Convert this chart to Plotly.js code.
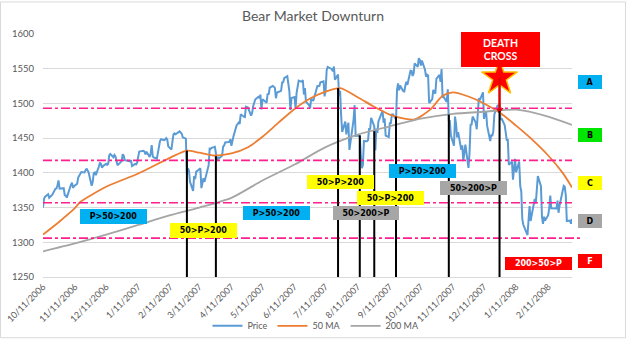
<!DOCTYPE html>
<html>
<head>
<meta charset="utf-8">
<script src="https://cdn.plot.ly/plotly-3.0.1.min.js"></script>
<style>html,body{margin:0;padding:0;background:#fff;}#chart{width:626px;height:352px;}</style>
</head>
<body>
<div id="chart"></div>
<script>
// ---- Price (daily closes), one small array per month: [day, close] ----
const p2006_10 = [[11,1349.9],[12,1362.8],[13,1365.6],[16,1369.1],[17,1364.1],[18,1365.8],[19,1367.0],[20,1368.6],[23,1377.0],[24,1377.4],[25,1382.2],[26,1389.1],[27,1377.3],[30,1377.9],[31,1377.9]];
const p2006_11 = [[1,1367.8],[2,1367.3],[3,1364.3],[6,1379.8],[7,1382.8],[8,1385.7],[9,1378.3],[10,1380.9],[13,1384.4],[14,1393.2],[15,1396.6],[16,1399.8],[17,1401.2],[20,1400.5],[21,1402.8],[22,1406.1],[24,1401.0],[27,1381.4],[28,1386.7],[29,1399.5],[30,1400.6]];
const p2006_12 = [[1,1396.7],[4,1409.1],[5,1414.8],[6,1412.9],[7,1407.3],[8,1409.8],[11,1413.0],[12,1411.6],[13,1413.2],[14,1425.5],[15,1427.1],[18,1422.5],[19,1425.6],[20,1423.5],[21,1418.3],[22,1410.8],[26,1416.9],[27,1426.8],[28,1424.7],[29,1418.3]];
const p2007_01 = [[3,1416.6],[4,1418.3],[5,1409.7],[8,1412.8],[9,1412.1],[10,1414.9],[11,1423.8],[12,1430.7],[16,1431.9],[17,1430.6],[18,1426.4],[19,1430.5],[22,1423.0],[23,1428.0],[24,1440.1],[25,1423.9],[26,1422.2],[29,1420.6],[30,1428.8],[31,1438.2]];
const p2007_02 = [[1,1445.9],[2,1448.4],[5,1447.0],[6,1448.0],[7,1450.0],[8,1448.3],[9,1438.1],[12,1433.4],[13,1444.3],[14,1455.3],[15,1456.8],[16,1455.5],[20,1459.7],[21,1457.6],[22,1456.4],[23,1451.2],[26,1449.4],[27,1399.0],[28,1406.8]];
const p2007_03 = [[1,1403.2],[2,1387.2],[5,1374.1],[6,1395.4],[7,1391.0],[8,1401.9],[9,1402.8],[12,1406.6],[13,1378.0],[14,1387.2],[15,1392.3],[16,1387.0],[19,1402.1],[20,1410.9],[21,1435.0],[22,1434.5],[23,1436.1],[26,1437.5],[27,1428.6],[28,1417.2],[29,1422.5],[30,1420.9]];
const p2007_04 = [[2,1424.6],[3,1437.8],[4,1439.4],[5,1443.8],[9,1444.6],[10,1448.4],[11,1438.9],[12,1447.8],[13,1452.9],[16,1468.3],[17,1471.5],[18,1472.5],[19,1470.7],[20,1484.4],[23,1480.9],[24,1480.4],[25,1495.4],[26,1494.3],[27,1494.1],[30,1482.4]];
const p2007_05 = [[1,1486.3],[2,1495.9],[3,1502.4],[4,1505.6],[7,1509.5],[8,1507.7],[9,1512.6],[10,1491.5],[11,1505.9],[14,1503.2],[15,1501.2],[16,1514.1],[17,1512.8],[18,1522.8],[21,1525.1],[22,1524.1],[23,1522.3],[24,1507.5],[25,1515.7],[29,1518.1],[30,1530.2],[31,1530.6]];
const p2007_06 = [[1,1536.3],[4,1539.2],[5,1531.0],[6,1517.4],[7,1490.7],[8,1507.7],[11,1509.1],[12,1493.0],[13,1515.7],[14,1523.0],[15,1532.9],[18,1531.1],[19,1533.7],[20,1512.8],[21,1522.2],[22,1502.6],[25,1497.7],[26,1492.9],[27,1506.3],[28,1505.7],[29,1503.4]];
const p2007_07 = [[2,1519.4],[3,1524.9],[5,1525.4],[6,1530.4],[9,1531.9],[10,1510.1],[11,1518.8],[12,1547.7],[13,1552.5],[16,1549.5],[17,1549.4],[18,1546.2],[19,1553.1],[20,1534.1],[23,1541.6],[24,1511.0],[25,1518.1],[26,1482.7],[27,1459.0],[30,1473.9],[31,1455.3]];
const p2007_08 = [[1,1465.8],[2,1472.2],[3,1433.1],[6,1467.7],[7,1476.7],[8,1497.5],[9,1453.1],[10,1453.6],[13,1452.9],[14,1426.5],[15,1406.7],[16,1411.3],[17,1445.9],[20,1445.6],[21,1447.1],[22,1464.1],[23,1462.5],[24,1479.4],[27,1466.8],[28,1432.4],[29,1463.8],[30,1457.6],[31,1474.0]];
const p2007_09 = [[4,1489.4],[5,1472.3],[6,1478.6],[7,1453.6],[10,1451.7],[11,1471.5],[12,1471.6],[13,1484.0],[14,1484.3],[17,1476.7],[18,1519.8],[19,1529.0],[20,1518.8],[21,1525.8],[24,1517.7],[25,1517.2],[26,1525.4],[27,1531.4],[28,1526.8]];
const p2007_10 = [[1,1547.0],[2,1546.6],[3,1539.6],[4,1542.8],[5,1557.6],[8,1552.6],[9,1565.2],[10,1562.5],[11,1554.4],[12,1561.8],[15,1548.7],[16,1538.5],[17,1541.2],[18,1540.1],[19,1500.6],[22,1506.3],[23,1519.6],[24,1515.9],[25,1514.4],[26,1535.3],[29,1541.0],[30,1531.0],[31,1549.4]];
const p2007_11 = [[1,1508.4],[2,1509.7],[5,1502.2],[6,1520.3],[7,1475.6],[8,1474.8],[9,1453.7],[12,1439.2],[13,1481.1],[14,1470.6],[15,1451.2],[16,1458.7],[19,1433.3],[20,1439.7],[21,1416.8],[23,1440.7],[26,1407.2],[27,1428.2],[28,1469.0],[29,1469.7],[30,1481.1]];
const p2007_12 = [[3,1472.4],[4,1462.8],[5,1485.0],[6,1507.3],[7,1504.7],[10,1516.0],[11,1477.7],[12,1486.6],[13,1488.4],[14,1468.0],[17,1445.9],[18,1455.0],[19,1453.0],[20,1460.1],[21,1484.5],[24,1496.5],[26,1497.7],[27,1476.3],[28,1478.5],[31,1468.4]];
const p2008_01 = [[2,1447.2],[3,1447.2],[4,1411.6],[7,1416.2],[8,1390.2],[9,1409.1],[10,1420.3],[11,1401.0],[14,1416.3],[15,1381.0],[16,1373.2],[17,1333.3],[18,1325.2],[22,1310.5],[23,1338.6],[24,1352.1],[25,1330.6],[28,1354.0],[29,1362.3],[30,1355.8],[31,1378.6]];
const p2008_02 = [[1,1395.4],[4,1380.8],[5,1336.6],[6,1326.5],[7,1336.9],[8,1331.3],[11,1339.1],[12,1348.9],[13,1367.2],[14,1348.9],[15,1349.0],[19,1348.8],[20,1360.0],[21,1342.5],[22,1353.1],[25,1371.8],[26,1381.3],[27,1380.0],[28,1367.7],[29,1330.6]];
const p2008_03 = [[3,1331.3],[4,1326.8],[5,1333.7]];

// ---- Moving averages ----
const ma50Dates = ['2006-10-11','2006-10-27','2006-11-10','2006-11-16','2006-12-11','2007-01-11','2007-02-11','2007-02-27','2007-03-11','2007-03-25','2007-04-11','2007-04-27','2007-05-11','2007-05-27','2007-06-11','2007-06-26','2007-07-11','2007-07-25','2007-08-11','2007-08-26','2007-09-11','2007-09-25','2007-10-05','2007-10-20','2007-11-01','2007-11-11','2007-11-26','2007-12-11','2007-12-27','2008-01-11','2008-01-25','2008-02-11','2008-02-25','2008-03-05'];
const ma50Values = [1311,1330,1348,1358,1380,1399,1422,1432,1429,1425,1428,1437,1452,1473,1492,1507,1517,1522,1509,1496,1484,1478,1477,1491,1511,1516,1510,1500,1486,1468,1450,1425,1400,1379];
const ma200Dates = ['2006-10-11','2006-11-10','2006-12-11','2007-01-11','2007-02-11','2007-03-11','2007-04-11','2007-05-11','2007-06-11','2007-07-11','2007-08-11','2007-09-11','2007-10-11','2007-11-11','2007-12-11','2008-01-11','2008-02-11','2008-03-05'];
const ma200Values = [1287,1298,1311,1325,1339,1350,1364,1389,1412,1437,1455,1467,1478,1485,1488,1491,1481,1469];

// ---- Axis ticks ----
const tickDates = ['2006-10-11','2006-11-11','2006-12-11','2007-01-11','2007-02-11','2007-03-11','2007-04-11','2007-05-11','2007-06-11','2007-07-11','2007-08-11','2007-09-11','2007-10-11','2007-11-11','2007-12-11','2008-01-11','2008-02-11'];
const tickLabels = ['10/11/2006','11/11/2006','12/11/2006','1/11/2007','2/11/2007','3/11/2007','4/11/2007','5/11/2007','6/11/2007','7/11/2007','8/11/2007','9/11/2007','10/11/2007','11/11/2007','12/11/2007','1/11/2008','2/11/2008'];

// ---- Signals ----
const signalDates = ['2007-02-27','2007-03-27','2007-07-23','2007-08-13','2007-08-27','2007-09-17','2007-11-07','2007-12-26'];
const signalTops = [1432,1424,1522,1454,1460,1481,1484,1489];
const crossDate = '2007-12-26';
const crossValue = 1489;
const starValue = 1537;
const levels = [1493,1418,1357,1306];
const regimeTexts = ['P>50>200','50>P>200','P>50>200','50>P>200','50>P>200','50>200>P','P>50>200','50>200>P','200>50>P'];
const zoneTexts = ['A','B','C','D','F'];

// ---- build price series ----
const months = [['2006-10',p2006_10],['2006-11',p2006_11],['2006-12',p2006_12],['2007-01',p2007_01],['2007-02',p2007_02],['2007-03',p2007_03],['2007-04',p2007_04],['2007-05',p2007_05],['2007-06',p2007_06],['2007-07',p2007_07],['2007-08',p2007_08],['2007-09',p2007_09],['2007-10',p2007_10],['2007-11',p2007_11],['2007-12',p2007_12],['2008-01',p2008_01],['2008-02',p2008_02],['2008-03',p2008_03]];
const priceX = [], priceY = [];
months.forEach(([ym, arr]) => arr.forEach(([d, v]) => { priceX.push(ym + '-' + String(d).padStart(2,'0')); priceY.push(v); }));

// ---- pixel helpers for decorations ----
const PL = 43, PR = 572, PT = 34, PB = 288;
const W = PR - PL, H = PB - PT;
const px = x => (x - PL) / W;
const py = y => (PB - y) / H;

const BLUE = '#00b0f0', YEL = '#ffff00', GRY = '#a6a6a6', RED = '#ff0000', GRN = '#00e600';
const regimeStyle = [
  {bg:BLUE, fg:'#000', cx:113, cy:224.5, w:67, h:15},
  {bg:YEL, fg:'#000', cx:203.5, cy:239.5, w:67, h:15},
  {bg:BLUE, fg:'#000', cx:276.5, cy:221.5, w:67, h:14},
  {bg:YEL, fg:'#000', cx:340.5, cy:189, w:67, h:14},
  {bg:YEL, fg:'#000', cx:390.5, cy:205.5, w:67, h:14},
  {bg:GRY, fg:'#000', cx:366, cy:221.5, w:66, h:14},
  {bg:BLUE, fg:'#000', cx:422.5, cy:177.5, w:67, h:14},
  {bg:GRY, fg:'#000', cx:473.5, cy:194.5, w:67, h:14},
  {bg:RED, fg:'#fff', cx:538.5, cy:274, w:67, h:13}
];
const zoneStyle = [
  {bg:BLUE, fg:'#000', cy:84},
  {bg:GRN, fg:'#000', cy:139.5},
  {bg:YEL, fg:'#000', cy:189.5},
  {bg:GRY, fg:'#000', cy:229.5},
  {bg:RED, fg:'#fff', cy:271}
];

const annotations = [];
regimeTexts.forEach((t, i) => {
  const s = regimeStyle[i];
  annotations.push({xref:'paper', yref:'paper', x:px(s.cx), y:py(s.cy), xanchor:'center', yanchor:'middle',
    text:'<b>'+t.replace(/>/g,'&gt;')+'</b>', showarrow:false, bgcolor:s.bg, width:s.w, height:s.h, borderpad:0, borderwidth:0,
    font:{family:'DejaVu Sans', size:8, color:s.fg}});
});
zoneTexts.forEach((t, i) => {
  const s = zoneStyle[i];
  annotations.push({xref:'paper', yref:'paper', x:px(590), y:py(s.cy), xanchor:'center', yanchor:'middle',
    text:'<b>'+t+'</b>', showarrow:false, bgcolor:s.bg, width:24, height:14, borderpad:0, borderwidth:0,
    font:{family:'DejaVu Sans', size:8, color:s.fg}});
});
annotations.push({xref:'paper', yref:'paper', x:px(500), y:py(50.5), xanchor:'center', yanchor:'middle',
  text:'<b>DEATH<br>CROSS</b>', showarrow:false, bgcolor:RED, width:79, height:35, borderpad:0, borderwidth:0,
  font:{family:'Lato, Open Sans, sans-serif', size:10.5, color:'#fff'}});

const shapes = [];
// chart border
shapes.push({type:'rect', xref:'paper', yref:'paper', x0:px(0.5), x1:px(625.5), y0:py(351.5), y1:py(0.5), line:{color:'#d9d9d9', width:1}, layer:'below'});
// support/resistance levels
levels.forEach((v, i) => shapes.push({type:'line', xref:'paper', yref:'y', x0:0, x1:(i===3?1.015:1), y0:v, y1:v,
  line:{color:'#ff1f8f', width:1.6, dash:'dashdot'}, layer:'above'}));
// signal verticals
signalDates.forEach((d, i) => shapes.push({type:'line', xref:'x', yref:'y', x0:d, x1:d, y0:1250, y1:signalTops[i],
  line:{color:'#000', width:2}, layer:'above'}));
// red death-cross pointer
shapes.push({type:'line', xref:'x', yref:'y', x0:crossDate, x1:crossDate, y0:crossValue, y1:starValue,
  line:{color:'#e00000', width:2.5}, layer:'above'});

const traces = [
  {x:priceX, y:priceY, name:'Price', type:'scatter', mode:'lines', line:{color:'#5b9bd5', width:2}},
  {x:ma50Dates, y:ma50Values, name:'50 MA', type:'scatter', mode:'lines', line:{color:'#ed7d31', width:1.8, shape:'spline', smoothing:0.7}},
  {x:ma200Dates, y:ma200Values, name:'200 MA', type:'scatter', mode:'lines', line:{color:'#a5a5a5', width:1.8, shape:'spline', smoothing:0.7}},
  {x:[crossDate], y:[crossValue+2], mode:'markers', type:'scatter', showlegend:false, hoverinfo:'skip',
    marker:{symbol:'triangle-down', size:7, color:'#e00000'}},
  {x:[crossDate], y:[starValue], mode:'markers', type:'scatter', showlegend:false, hoverinfo:'skip',
    marker:{symbol:'star', size:27, color:'#ff0000', line:{color:'#ffc000', width:1.5}}}
];

const layout = {
  width:626, height:352,
  margin:{l:PL, r:626-PR, t:PT, b:352-PB},
  paper_bgcolor:'#fff', plot_bgcolor:'#fff',
  font:{family:'Lato, Open Sans, sans-serif', color:'#595959'},
  title:{text:'Bear Market Downturn', x:0.5, xanchor:'center', y:1-16/352, yanchor:'middle', yref:'container',
    font:{family:'Lato, Open Sans, sans-serif', size:14, color:'#595959'}},
  xaxis:{type:'date', range:['2006-10-11','2008-03-05'], tickmode:'array', tickvals:tickDates, ticktext:tickLabels,
    tickangle:-45, showgrid:false, zeroline:false, showline:true, linecolor:'#d9d9d9', linewidth:1, ticks:'',
    tickfont:{size:9, color:'#595959'}},
  yaxis:{range:[1250,1600], dtick:50, tick0:1250, showgrid:true, gridcolor:'#d9d9d9', gridwidth:1, zeroline:false, showline:false,
    ticks:'', ticklabelstandoff:8, tickfont:{size:9.5, color:'#595959'}},
  legend:{orientation:'h', x:px(316), xanchor:'center', y:(PB-339)/H, yanchor:'middle', font:{size:9, color:'#595959'},
    bgcolor:'rgba(0,0,0,0)', itemwidth:30},
  showlegend:true,
  annotations:annotations,
  shapes:shapes
};

Plotly.newPlot('chart', traces, layout, {displayModeBar:false, staticPlot:true});
</script>
</body>
</html>
